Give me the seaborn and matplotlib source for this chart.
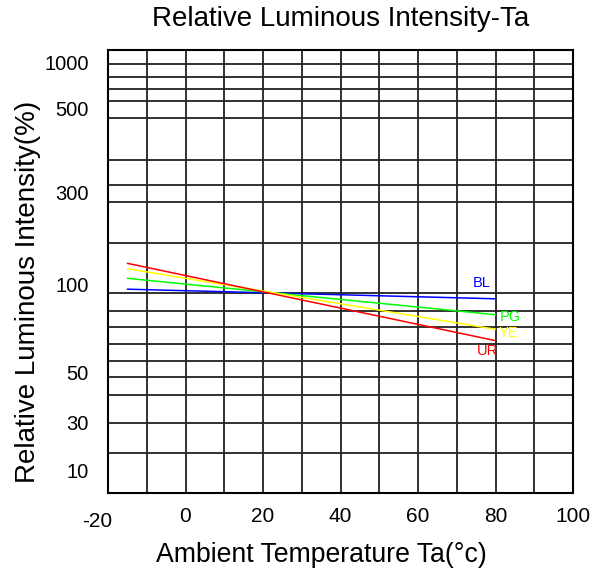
import numpy as np
import pandas as pd
import matplotlib
matplotlib.use("Agg")
import matplotlib.pyplot as plt
import matplotlib.transforms as mtransforms
import seaborn as sns

# ---------------- data ----------------
temps = [-15, 80]
bl_vals = [96, 89]
pg_vals = [107, 78.5]
ye_vals = [120, 70]
ur_vals = [128, 64]
series_names = ["BL", "PG", "YE", "UR"]
series_colors = ["#0000FF", "#00FF00", "#FFFF00", "#FF0000"]
ytick_vals = [10, 30, 50, 100, 300, 500, 1000]
xtick_vals = [-20, 0, 20, 40, 60, 80, 100]

df = pd.DataFrame({
    "Ta": temps * 4,
    "Intensity": bl_vals + pg_vals + ye_vals + ur_vals,
    "Series": [n for n in series_names for _ in temps],
})

# ---------------- style ----------------
sns.set_style("white")
plt.rcParams["font.family"] = ["Liberation Sans", "DejaVu Sans"]

W, H = 592, 579
TOP, BOT, LEFT, RIGHT = 50, 493, 108, 573
fig = plt.figure(figsize=(W / 100, H / 100), dpi=100)
ax = fig.add_axes([LEFT / W, (H - BOT) / H, (RIGHT - LEFT) / W, (BOT - TOP) / H])

# irregular datasheet y-scale (value -> pixel row anchors)
anchor_vals = [6.0, 10, 30, 50, 100, 300, 500, 1000, 1200]
anchor_rows = [493, 470, 422, 372, 284, 192, 108, 62, 50]
a_logs = np.log10(anchor_vals)
a_ps = (BOT - np.array(anchor_rows, float)) / (BOT - TOP)


def fwd(v):
    v = np.asarray(v, float)
    return np.interp(np.log10(np.clip(v, 1e-9, None)), a_logs, a_ps)


def inv(p):
    return 10 ** np.interp(np.asarray(p, float), a_ps, a_logs)


ax.set_yscale("function", functions=(fwd, inv))
ax.set_ylim(anchor_vals[0], anchor_vals[-1])
ax.set_xlim(-20, 100)

# grid
grid_rows = [64, 76.7, 89.3, 101.3, 118.3, 160, 185, 201.7, 243.3, 293.3,
             310.7, 327.3, 344, 360.7, 377.3, 395, 423.3, 452.7]
for r in grid_rows:
    f = (BOT - r) / (BOT - TOP)
    ax.plot([0, 1], [f, f], transform=ax.transAxes, color="#222222", lw=1.3, zorder=1)
for xv in range(-10, 100, 10):
    ax.axvline(xv, color="#222222", lw=1.3, zorder=1)

# lines
sns.lineplot(data=df, x="Ta", y="Intensity", hue="Series", hue_order=series_names,
             palette=series_colors, linewidth=1.1, legend=False, ax=ax, zorder=3)

# series labels
ends = {"BL": bl_vals[-1], "PG": pg_vals[-1], "YE": ye_vals[-1], "UR": ur_vals[-1]}
offsets = {"BL": (-14, 16), "PG": (15, -2), "YE": (13, -4), "UR": (-8, -10)}
for name, col in zip(series_names, series_colors):
    ax.annotate(name, xy=(temps[-1], ends[name]), xytext=offsets[name],
                textcoords="offset pixels", ha="center", va="center",
                color=col, fontsize=10.5)

# ticks
ax.set_xticks(xtick_vals)
ax.set_xticklabels([str(v) for v in xtick_vals])
ax.set_yticks(ytick_vals)
ax.set_yticklabels([str(v) for v in ytick_vals])
ax.yaxis.set_minor_locator(matplotlib.ticker.NullLocator())
ax.tick_params(axis="x", length=0, pad=10, labelsize=15, colors="black")
ax.tick_params(axis="y", length=0, pad=14, labelsize=14.5, colors="black")
lab0 = ax.get_xticklabels()[0]
lab0.set_transform(lab0.get_transform() +
                   mtransforms.ScaledTranslation(-11 / 100, -5 / 100, fig.dpi_scale_trans))

for s in ax.spines.values():
    s.set_visible(True)
    s.set_color("black")
    s.set_linewidth(1.5)

ax.set_xlabel("")
ax.set_ylabel("")

fig.text(341 / W, 1 - 19 / H, "Relative Luminous Intensity-Ta", ha="center", va="center",
         fontsize=20, color="black")
fig.text(321 / W, 1 - 555 / H, "Ambient Temperature Ta(°c)", ha="center", va="center",
         fontsize=19.2, color="black")
fig.text(28 / W, 1 - 292 / H, "Relative Luminous Intensity(%)", ha="center", va="center",
         rotation=90, fontsize=20, color="black")

fig.savefig("out.png", dpi=100, facecolor="white")
